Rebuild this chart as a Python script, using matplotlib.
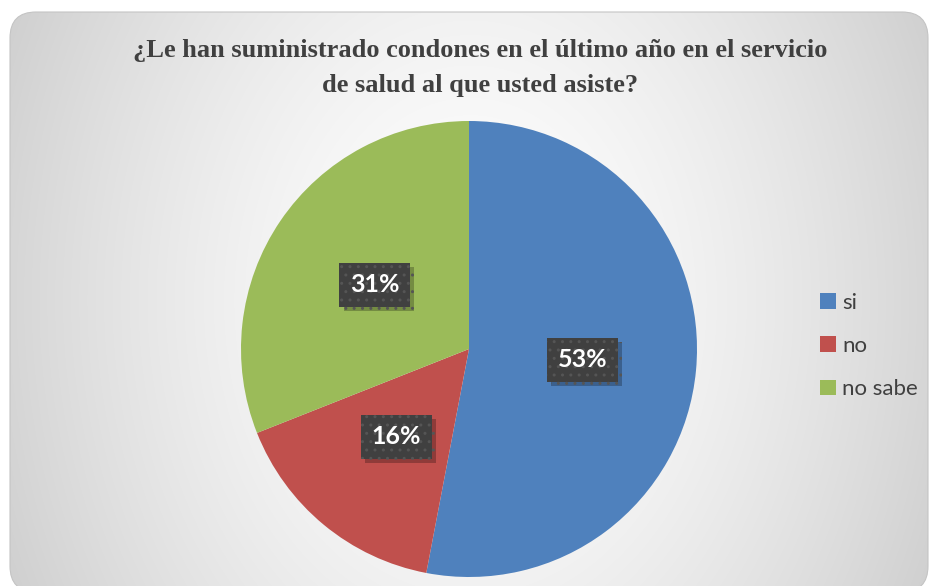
import numpy as np
import matplotlib
matplotlib.use("Agg")
import matplotlib.pyplot as plt
from matplotlib.patches import FancyBboxPatch, Patch
import matplotlib.patheffects as pe

labels = ["si", "no", "no sabe"]
values = [53, 16, 31]
colors = ["#4F81BD", "#C0504D", "#9BBB59"]
title = "¿Le han suministrado condones en el último año en el servicio\nde salud al que usted asiste?"

W, H = 932, 586
fig = plt.figure(figsize=(W / 100, H / 100), dpi=100)
fig.patch.set_facecolor("white")

# background panel with a soft radial gradient (pixel coords, y up)
bg = fig.add_axes([0, 0, 1, 1])
bg.set_xlim(0, W)
bg.set_ylim(0, H)
bg.axis("off")
yy, xx = np.mgrid[0:H, 0:W]
d = np.sqrt(((xx - 470) / 460.0) ** 2 + ((yy - 300) / 600.0) ** 2)
shade = np.clip(1.0 - 0.16 * d ** 1.5, 0, 1)
img = np.dstack([shade, shade, shade])
box = dict(boxstyle="round,pad=0,rounding_size=26")
panel = FancyBboxPatch((10, -6), 918, H - 12 + 6, facecolor="none", edgecolor="none", **box)
bg.add_patch(panel)
im = bg.imshow(img, extent=(0, W, 0, H), origin="upper", interpolation="bilinear")
im.set_clip_path(panel)
bg.add_patch(FancyBboxPatch((10, -6), 918, H - 12 + 6, facecolor="none",
                            edgecolor="#c4c4c4", linewidth=0.8, **box))
bg.set_xlim(0, W)
bg.set_ylim(0, H)

fig.text(480 / W, 1 - 68 / H, title, ha="center", va="center",
         family="Liberation Serif", fontweight="bold", fontsize=19,
         color="#404040", linespacing=1.68)

# pie
r = 228
cx, cy = 469, 349
ax = fig.add_axes([(cx - r) / W, (H - cy - r) / H, 2 * r / W, 2 * r / H])
wedges, texts, autotexts = ax.pie(values, colors=colors, startangle=90, counterclock=False,
                                  autopct=lambda p: f"{round(p)}%", pctdistance=0.5, radius=1,
                                  textprops=dict(color="white", fontsize=18,
                                                 fontweight="bold", family="Lato"))
ax.set_xlim(-1, 1)
ax.set_ylim(-1, 1)
ax.set_aspect("equal")
for t in autotexts:
    t.set_bbox(dict(boxstyle="square,pad=0.42", facecolor="#404040",
                    edgecolor="#555555", hatch="..", linewidth=0))
    t.get_bbox_patch().set_path_effects(
        [pe.SimplePatchShadow(offset=(3, -3), shadow_rgbFace="#000000", alpha=0.25), pe.Normal()])

handles = [Patch(facecolor=c, edgecolor="none") for c in colors]
leg = fig.legend(handles, labels, loc="center left", bbox_to_anchor=(800 / W, 1 - 346 / H),
                 frameon=False, labelspacing=1.05, handlelength=0.7,
                 handleheight=0.7, handletextpad=0.3,
                 prop=dict(family="Lato", size=16))
for t in leg.get_texts():
    t.set_color("#404040")

fig.savefig("out.png", dpi=100)
